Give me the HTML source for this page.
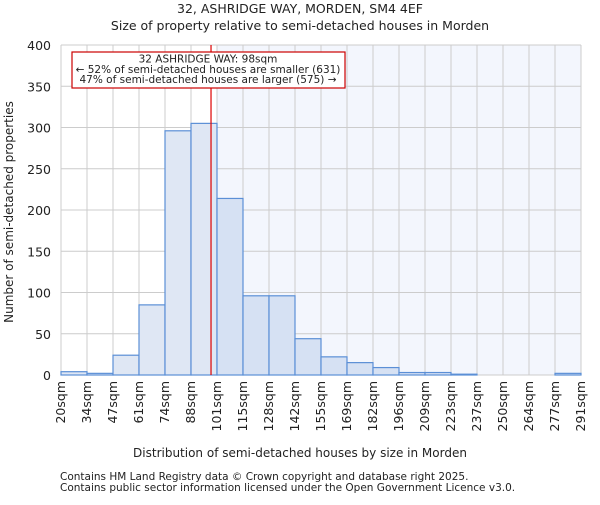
<!DOCTYPE html>
<html><head><meta charset="utf-8"><style>
body{margin:0;background:#fff}
svg text{font-family:"DejaVu Sans","Liberation Sans",sans-serif;fill:#222}
</style></head><body>
<svg id="c" width="600" height="500" xmlns="http://www.w3.org/2000/svg">
<rect width="600" height="500" fill="#fff"/>
<text x="300" y="13" text-anchor="middle" font-size="12.5">32, ASHRIDGE WAY, MORDEN, SM4 4EF</text>
<text x="300" y="30" text-anchor="middle" font-size="12.5">Size of property relative to semi-detached houses in Morden</text>
<g id="plot"></g>
<text x="300" y="457" text-anchor="middle" font-size="12">Distribution of semi-detached houses by size in Morden</text>
<text transform="translate(13,212) rotate(-90)" text-anchor="middle" font-size="12">Number of semi-detached properties</text>
<text x="60" y="480" font-size="10.5" fill="#444">Contains HM Land Registry data © Crown copyright and database right 2025.</text>
<text x="60" y="491" font-size="10.5" fill="#444">Contains public sector information licensed under the Open Government Licence v3.0.</text>
</svg>
<script>
const binLabels=["20sqm","34sqm","47sqm","61sqm","74sqm","88sqm","101sqm","115sqm","128sqm","142sqm","155sqm","169sqm","182sqm","196sqm","209sqm","223sqm","237sqm","250sqm","264sqm","277sqm","291sqm"];
const counts=[4,2,24,85,296,305,214,96,96,44,22,15,9,3,3,1,0,0,0,2];
const yTicks=[0,50,100,150,200,250,300,350,400];
const propertyBin=5.77;
const shadeFromBin=6;
const NS="http://www.w3.org/2000/svg";
const X0=61,X1=581,Y0=375,Y1=45,YMAX=400;
const xs=i=>X0+(X1-X0)*i/counts.length;
const ys=v=>Y0-(Y0-Y1)*v/YMAX;
const g=document.getElementById('plot');
function mk(t,a){const e=document.createElementNS(NS,t);for(const k in a)e.setAttribute(k,a[k]);g.appendChild(e);return e;}
let e=mk('rect',{x:xs(shadeFromBin),y:Y1,width:X1-xs(shadeFromBin),height:Y0-Y1,fill:'#f3f6fd'});


for(let i=0;i<=counts.length;i++){e=mk('line',{x1:xs(i),x2:xs(i),y1:Y1,y2:Y0,stroke:'#cccccc','stroke-width':1});

}
yTicks.forEach(t=>{e=mk('line',{x1:X0,x2:X1,y1:ys(t),y2:ys(t),stroke:'#cccccc','stroke-width':1});


e=mk('text',{x:X0-10,y:ys(t)+5,'text-anchor':'end','font-size':12.5});e.textContent=t;

});
counts.forEach((c,i)=>{e=mk('rect',{x:xs(i),y:ys(c),width:xs(i+1)-xs(i),height:Y0-ys(c),fill:i>=shadeFromBin?'#d6e1f3':'#dfe7f4',stroke:'#5b8fd6','stroke-width':1.2});

});
binLabels.forEach((l,i)=>{const x=xs(i)+4;e=mk('text',{x:x,y:381,'text-anchor':'end','font-size':12.5,transform:`rotate(-90 ${x} 381)`});e.textContent=l;

});
const px=xs(propertyBin);
e=mk('line',{x1:px,x2:px,y1:Y1,y2:Y0,stroke:'#dd0000','stroke-width':1.2});


e=mk('rect',{x:72,y:52,width:273,height:36,fill:'#fff',stroke:'#cc0000','stroke-width':1.2});


["32 ASHRIDGE WAY: 98sqm","← 52% of semi-detached houses are smaller (631)","47% of semi-detached houses are larger (575) →"].forEach((t,i)=>{e=mk('text',{x:208,y:62.5+i*10.3,'text-anchor':'middle','font-size':10.5});e.textContent=t;

});
</script>
</body></html>
